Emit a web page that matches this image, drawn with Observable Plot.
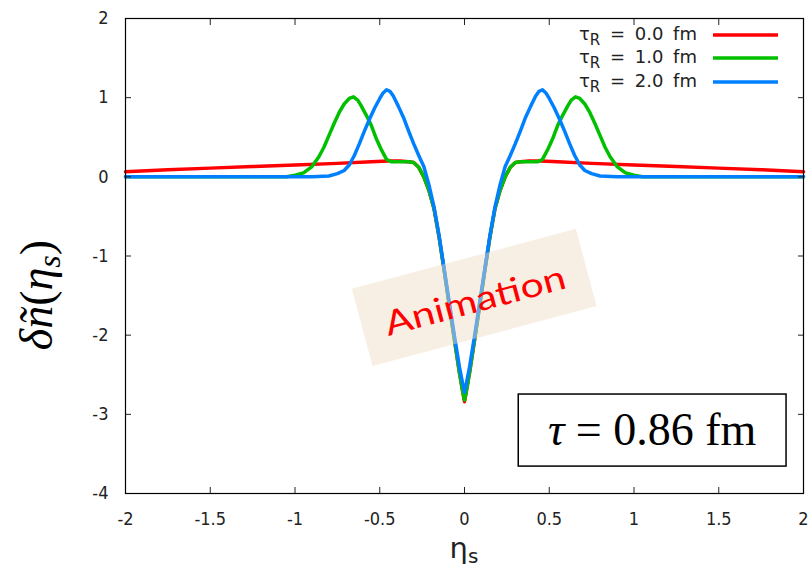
<!DOCTYPE html>
<html><head><meta charset="utf-8">
<script src="https://cdn.jsdelivr.net/npm/d3@7"></script>
<script src="https://cdn.jsdelivr.net/npm/@observablehq/plot@0.6"></script>
<style>
body{margin:0;background:#fff}
#chart{position:relative;width:812px;height:569px;overflow:hidden}
</style>
</head><body><div id="chart"></div>
<script>
// ---- data ----
const xTicks = [-2, -1.5, -1, -0.5, 0, 0.5, 1, 1.5, 2];
const xTickLabels = ["-2", "-1.5", "-1", "-0.5", "0", "0.5", "1", "1.5", "2"];
const yTicks = [-4, -3, -2, -1, 0, 1, 2];
const yTickLabels = ["-4", "-3", "-2", "-1", "0", "1", "2"];

const seriesLabels = ["0.0 fm", "1.0 fm", "2.0 fm"];
const seriesColors = ["#ff0000", "#00c000", "#0080ff"];

// tau_R = 0.0 fm
const etaRed = [-2, -1.75, -1.5, -1.25, -1.0, -0.75, -0.55, -0.45, -0.38, -0.33, -0.30, -0.27, -0.24, -0.21, -0.18, -0.15, -0.12, -0.09, -0.06, -0.03, -0.01, 0,
  0.01, 0.03, 0.06, 0.09, 0.12, 0.15, 0.18, 0.21, 0.24, 0.27, 0.30, 0.33, 0.38, 0.45, 0.55, 0.75, 1.0, 1.25, 1.5, 1.75, 2];
const nRed = [0.065, 0.09, 0.11, 0.13, 0.15, 0.17, 0.19, 0.2, 0.2, 0.19, 0.18, 0.12, 0.0, -0.17, -0.4, -0.76, -1.18, -1.62, -2.05, -2.47, -2.72, -2.84,
  -2.72, -2.47, -2.05, -1.62, -1.18, -0.76, -0.4, -0.17, 0.0, 0.12, 0.18, 0.19, 0.2, 0.2, 0.19, 0.17, 0.15, 0.13, 0.11, 0.09, 0.065];

// tau_R = 1.0 fm
const etaGreen = [-2, -1.05, -1.0, -0.95, -0.9, -0.86, -0.83, -0.8, -0.77, -0.74, -0.71, -0.68, -0.655, -0.63, -0.61, -0.58, -0.55, -0.52, -0.49, -0.46, -0.43, -0.38, -0.33, -0.30, -0.27, -0.24, -0.21, -0.18, -0.15, -0.12, -0.09, -0.06, -0.03, -0.01, 0,
  0.01, 0.03, 0.06, 0.09, 0.12, 0.15, 0.18, 0.21, 0.24, 0.27, 0.30, 0.33, 0.38, 0.43, 0.46, 0.49, 0.52, 0.55, 0.58, 0.61, 0.63, 0.655, 0.68, 0.71, 0.74, 0.77, 0.8, 0.83, 0.86, 0.9, 0.95, 1.0, 1.05, 2];
const nGreen = [0, 0, 0.02, 0.05, 0.13, 0.25, 0.37, 0.52, 0.67, 0.81, 0.92, 0.99, 1.01, 0.97, 0.9, 0.78, 0.65, 0.48, 0.34, 0.22, 0.19, 0.19, 0.19, 0.18, 0.12, 0.0, -0.17, -0.4, -0.76, -1.18, -1.62, -2.05, -2.47, -2.72, -2.82,
  -2.72, -2.47, -2.05, -1.62, -1.18, -0.76, -0.4, -0.17, 0.0, 0.12, 0.18, 0.19, 0.19, 0.19, 0.22, 0.34, 0.48, 0.65, 0.78, 0.9, 0.97, 1.01, 0.99, 0.92, 0.81, 0.67, 0.52, 0.37, 0.25, 0.13, 0.05, 0.02, 0, 0];

// tau_R = 2.0 fm
const etaBlue = [-2, -0.9, -0.8, -0.75, -0.71, -0.68, -0.65, -0.62, -0.59, -0.56, -0.53, -0.5, -0.48, -0.46, -0.44, -0.42, -0.39, -0.36, -0.33, -0.3, -0.27, -0.24, -0.21, -0.18, -0.15, -0.12, -0.09, -0.06, -0.03, -0.01, 0,
  0.01, 0.03, 0.06, 0.09, 0.12, 0.15, 0.18, 0.21, 0.24, 0.27, 0.3, 0.33, 0.36, 0.39, 0.42, 0.44, 0.46, 0.48, 0.5, 0.53, 0.56, 0.59, 0.62, 0.65, 0.68, 0.71, 0.75, 0.8, 0.9, 2];
const nBlue = [0, 0, 0.01, 0.04, 0.08, 0.15, 0.27, 0.42, 0.58, 0.73, 0.87, 0.99, 1.06, 1.1, 1.08, 1.02, 0.89, 0.75, 0.58, 0.42, 0.27, 0.13, -0.1, -0.38, -0.74, -1.16, -1.58, -2.0, -2.4, -2.62, -2.72,
  -2.62, -2.4, -2.0, -1.58, -1.16, -0.74, -0.38, -0.1, 0.13, 0.27, 0.42, 0.58, 0.75, 0.89, 1.02, 1.08, 1.1, 1.06, 0.99, 0.87, 0.73, 0.58, 0.42, 0.27, 0.15, 0.08, 0.04, 0.01, 0, 0];

const tauText = "0.86 fm";
const overlayText = "Animation";

// ---- build ----
const toRows = (xs, ys) => xs.map((x, i) => ({eta: x, n: ys[i]}));
const series = [toRows(etaRed, nRed), toRows(etaGreen, nGreen), toRows(etaBlue, nBlue)];

const plot = Plot.plot({
  width: 812, height: 569,
  marginLeft: 125, marginRight: 9, marginTop: 18, marginBottom: 76,
  x: {domain: [-2, 2]},
  y: {domain: [-4, 2]},
  style: {fontFamily: "'DejaVu Sans Condensed','DejaVu Sans',sans-serif", fontSize: "18px", color: "#222", background: "#fff"},
  marks: [
    ...series.map((rows, k) => Plot.line(rows, {x: "eta", y: "n", stroke: seriesColors[k], strokeWidth: 3.5, strokeLinejoin: "round"})),
    Plot.axisX(xTicks, {anchor: "bottom", tickSize: -6, tickPadding: 25, tickFormat: (d) => xTickLabels[xTicks.indexOf(d)], label: null}),
    Plot.axisX(xTicks, {anchor: "top", tickSize: -6, tickFormat: () => "", label: null}),
    Plot.axisY(yTicks, {anchor: "left", tickSize: -6, tickPadding: 23, tickFormat: (d) => yTickLabels[yTicks.indexOf(d)], label: null}),
    Plot.axisY(yTicks, {anchor: "right", tickSize: -6, tickFormat: () => "", label: null}),
    Plot.frame({stroke: "#000", strokeWidth: 1.2})
  ]
});
document.getElementById("chart").appendChild(plot);

const svg = d3.select(plot);
const sx = plot.scale("x"), sy = plot.scale("y");
const X = (v) => sx.apply(v), Y = (v) => sy.apply(v);

// legend (inside top-right)
const leg = svg.append("g").attr("font-family", "'DejaVu Sans',sans-serif").attr("font-size", 18).attr("fill", "#222")
  .attr("word-spacing", 4);
const legBase = [40, 63, 87];
seriesLabels.forEach((lab, i) => {
  const t = leg.append("text").attr("x", 697).attr("y", legBase[i]).attr("text-anchor", "end");
  t.append("tspan").text("τ");
  t.append("tspan").attr("font-size", 15).attr("dy", 5).text("R");
  t.append("tspan").attr("dy", -5).text(" = " + lab);
  leg.append("line").attr("x1", 713).attr("x2", 778).attr("y1", legBase[i] - 5).attr("y2", legBase[i] - 5)
    .attr("stroke", seriesColors[i]).attr("stroke-width", 3.5);
});

// Animation overlay (rotated tag) – anchored in data space
const cx = X(0.06), cy = Y(-1.53);
const ov = svg.append("g").attr("transform", `translate(${cx},${cy}) rotate(-15)`);
ov.append("rect").attr("x", -116).attr("y", -40).attr("width", 232).attr("height", 80)
  .attr("fill", "#f0dcc4").attr("fill-opacity", 0.45);
ov.append("text").attr("x", 0).attr("y", 15).attr("text-anchor", "middle")
  .attr("font-family", "Lato, 'DejaVu Sans', sans-serif").attr("font-size", 34)
  .attr("textLength", 186).attr("lengthAdjust", "spacingAndGlyphs")
  .attr("fill", "#ff0000").text(overlayText);

// tau box
const bx1 = X(0.32), bx2 = X(1.9), by1 = Y(-2.75), by2 = Y(-3.66);
svg.append("rect").attr("x", bx1).attr("y", by1).attr("width", bx2 - bx1).attr("height", by2 - by1)
  .attr("fill", "#fff").attr("stroke", "#000").attr("stroke-width", 1.5);
const tt = svg.append("text").attr("x", (bx1 + bx2) / 2).attr("y", (by1 + by2) / 2 + 15).attr("text-anchor", "middle")
  .attr("font-family", "'Liberation Serif','DejaVu Serif',serif").attr("font-size", 46).attr("fill", "#000");
tt.append("tspan").attr("font-style", "italic").text("τ");
tt.append("tspan").text(" = " + tauText);

// y-axis title
const yt = svg.append("text").attr("transform", "translate(52,295) rotate(-90)").attr("text-anchor", "middle")
  .attr("font-family", "'Liberation Serif','DejaVu Serif',serif").attr("font-size", 46).attr("fill", "#000");
yt.append("tspan").attr("font-style", "italic").text("δñ");
yt.append("tspan").text("(");
yt.append("tspan").attr("font-style", "italic").text("η");
yt.append("tspan").attr("font-style", "italic").attr("font-size", 32).attr("dy", 8).text("s");
yt.append("tspan").attr("dy", -8).text(")");

// x-axis title
const xt = svg.append("text").attr("x", X(0)).attr("y", 558).attr("text-anchor", "middle")
  .attr("font-family", "'DejaVu Sans',sans-serif").attr("font-size", 29).attr("fill", "#222");
xt.append("tspan").text("η");
xt.append("tspan").attr("font-size", 20).attr("dy", 5).text("s");
</script>
</body></html>
